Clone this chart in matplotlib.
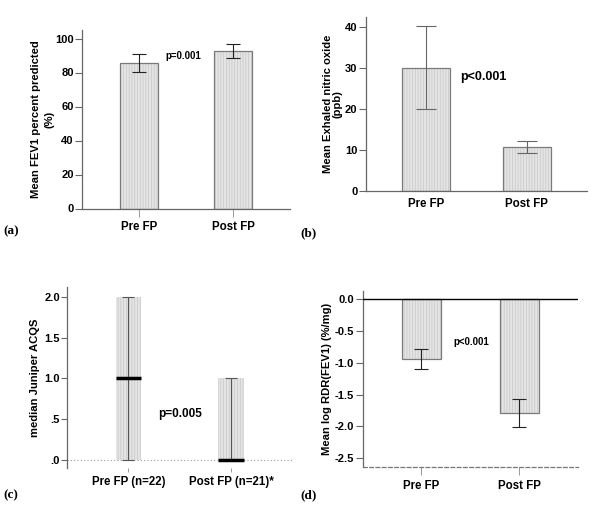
import matplotlib
matplotlib.use("Agg")
import matplotlib.pyplot as plt
import numpy as np

plt.rcParams['font.family'] = ['Liberation Sans', 'DejaVu Sans']
plt.rcParams['font.weight'] = 'bold'
plt.rcParams['hatch.linewidth'] = 0.5

# Data
groups_ab = ["Pre FP", "Post FP"]
fev1_mean = [85.4, 92.6]
fev1_err = [5.3, 4.2]
feno_mean = [30.0, 10.7]
feno_err = [10.1, 1.5]
groups_c = ["Pre FP (n=22)", "Post FP (n=21)*"]
acq_median = [1.0, 0.0]
acq_low = [0.0, 0.0]
acq_high = [2.0, 1.0]
rdr_mean = [-0.94, -1.79]
rdr_err = [0.16, 0.22]

W, H = 600, 518
fig = plt.figure(figsize=(6.0, 5.18), dpi=100)

def pos(l, r, t, b):
    return [l / W, 1 - b / H, (r - l) / W, (b - t) / H]

BAR_FC = '#e4e4e4'
HATCH_C = '#c6c6c6'
BAR_EC = '#7a7a7a'
SPINE = '#666666'
TF = 8
LF = 8.1

def hbar(ax, x, h, w, bottom=0, outline=True):
    ax.bar(x, h, width=w, bottom=bottom, color=BAR_FC, edgecolor=HATCH_C, linewidth=0, hatch='||||||')
    if outline:
        ax.bar(x, h, width=w, bottom=bottom, color='none', edgecolor=BAR_EC, linewidth=0.9)

def style(ax):
    for s in ['top', 'right']:
        ax.spines[s].set_visible(False)
    for s in ['left', 'bottom']:
        ax.spines[s].set_color(SPINE)
        ax.spines[s].set_linewidth(0.9)
    ax.tick_params(axis='y', direction='out', length=5, width=0.8, color=SPINE, labelsize=TF, pad=1)
    ax.tick_params(axis='x', direction='out', length=6, width=0.6, color='#888888', labelsize=TF + 0.3, pad=3)
    for lab in ax.get_xticklabels() + ax.get_yticklabels():
        lab.set_fontweight('bold')

x = np.arange(2)

# (a)
ax = fig.add_axes(pos(82, 290, 30, 208.5))
hbar(ax, x, fev1_mean, 0.4)
ax.errorbar(x, fev1_mean, yerr=fev1_err, fmt='none', ecolor='#222222', elinewidth=0.8, capsize=5, capthick=0.8)
ax.set_xlim(-0.6, 1.6)
ax.set_ylim(0, 105)
ax.set_yticks([0, 20, 40, 60, 80, 100])
ax.set_xticks(x)
ax.set_xticklabels(groups_ab)
ax.set_ylabel("Mean FEV1 percent predicted\n(%)", fontsize=LF, fontweight='bold', linespacing=1.45, labelpad=0.5)
style(ax)
ax.text(0.47, 90, "p=0.001", fontsize=7, fontweight='bold', ha='center', va='center')

# (b)
ax = fig.add_axes(pos(365.7, 587, 17.3, 190.7))
hbar(ax, x, feno_mean, 0.48)
ax.errorbar(x, feno_mean, yerr=feno_err, fmt='none', ecolor='#666666', elinewidth=0.8, capsize=7, capthick=0.8)
ax.set_xlim(-0.6, 1.6)
ax.set_ylim(0, 42.3)
ax.set_yticks([0, 10, 20, 30, 40])
ax.set_xticks(x)
ax.set_xticklabels(groups_ab)
ax.set_ylabel("Mean Exhaled nitric oxide\n(ppb)", fontsize=LF, fontweight='bold', linespacing=0.95, labelpad=1.5)
style(ax)
ax.tick_params(axis='x', length=0, pad=5)
ax.text(0.34, 27.8, "p<0.001", fontsize=9, fontweight='bold', ha='left', va='center')

# (c)
ax = fig.add_axes(pos(66.7, 293, 287.3, 468))
lo = np.array(acq_low); hi = np.array(acq_high); med = np.array(acq_median)
hbar(ax, x, hi - lo, 0.25, bottom=lo, outline=False)
ax.errorbar(x, (hi + lo) / 2, yerr=(hi - lo) / 2, fmt='none', ecolor='#555555', elinewidth=0.8, capsize=4, capthick=0.8)
ax.hlines(med, x - 0.125, x + 0.125, colors='black', linewidth=2.5, zorder=5)
ax.axhline(0, color='#999999', linestyle=(0, (1, 2)), linewidth=0.8, zorder=0)
ax.set_xlim(-0.6, 1.6)
ax.set_ylim(-0.098, 2.115)
ax.set_yticks([0, 0.5, 1.0, 1.5, 2.0])
ax.set_yticklabels([".0", ".5", "1.0", "1.5", "2.0"])
ax.set_xticks(x)
ax.set_xticklabels(groups_c)
ax.set_ylabel("median Juniper ACQS", fontsize=LF, fontweight='bold', labelpad=3)
style(ax)
ax.spines['bottom'].set_visible(False)
ax.tick_params(axis='y', length=4)
ax.tick_params(axis='x', length=3)
ax.text(0.50, 0.56, "p=0.005", fontsize=8.5, fontweight='bold', ha='center', va='center')

# (d)
ax = fig.add_axes(pos(362.7, 578, 290.7, 467.3))
hbar(ax, x, rdr_mean, 0.4)
ax.errorbar(x, rdr_mean, yerr=rdr_err, fmt='none', ecolor='#222222', elinewidth=0.8, capsize=5, capthick=0.8)
ax.axhline(0, color='black', linewidth=1.0, zorder=4)
ax.set_xlim(-0.6, 1.6)
ax.set_ylim(-2.64, 0.13)
ax.set_yticks([0, -0.5, -1.0, -1.5, -2.0, -2.5])
ax.set_yticklabels(["0.0", "-0.5", "-1.0", "-1.5", "-2.0", "-2.5"])
ax.set_xticks(x)
ax.set_xticklabels(groups_ab)
ax.set_ylabel("Mean log RDR(FEV1) (%/mg)", fontsize=LF, fontweight='bold', labelpad=2)
style(ax)
ax.spines['bottom'].set_linestyle((0, (3, 2)))
ax.spines['bottom'].set_color('#777777')
ax.text(0.51, -0.68, "p<0.001", fontsize=7, fontweight='bold', ha='center', va='center')

# panel labels
lab_kw = dict(fontsize=9.5, fontweight='bold', family=['Liberation Serif', 'DejaVu Serif'], va='center', ha='left')
fig.text(3 / W, 1 - 231 / H, "(a)", **lab_kw)
fig.text(300 / W, 1 - 233 / H, "(b)", **lab_kw)
fig.text(3 / W, 1 - 495 / H, "(c)", **lab_kw)
fig.text(300 / W, 1 - 495 / H, "(d)", **lab_kw)

fig.savefig("out.png", dpi=100)
